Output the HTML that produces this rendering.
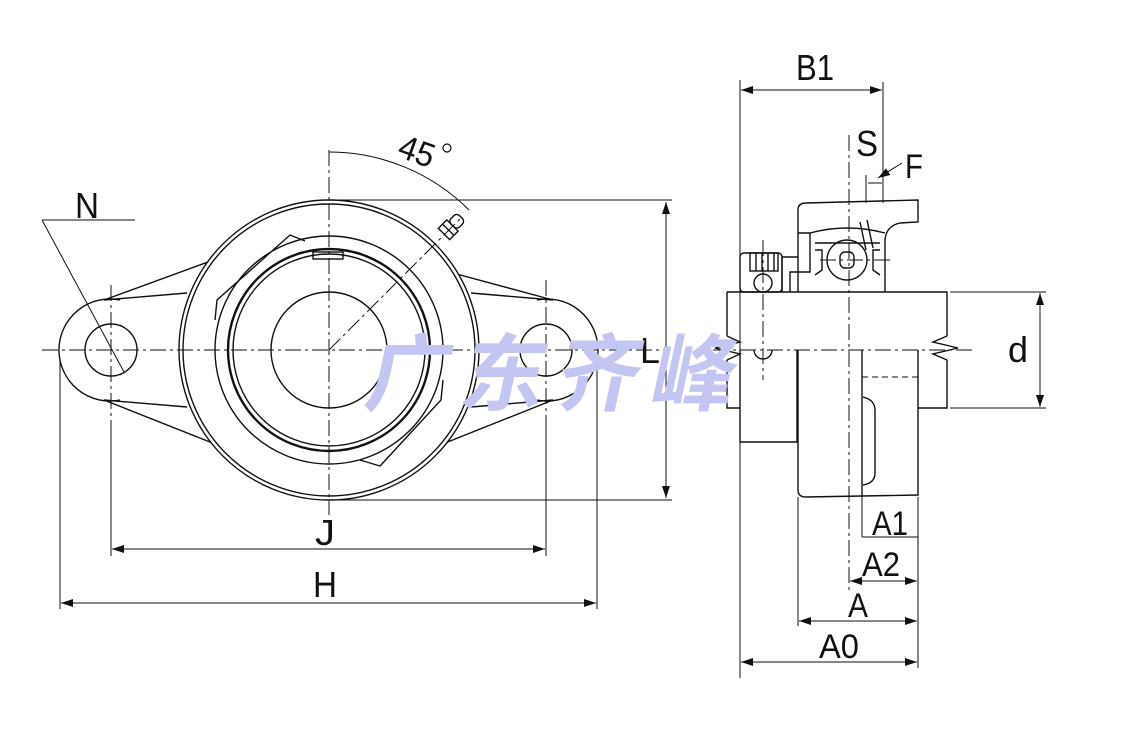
<!DOCTYPE html>
<html><head><meta charset="utf-8"><style>
html,body{margin:0;padding:0;background:#fff;}
svg{display:block;}
text{font-family:"Liberation Sans",sans-serif;fill:#111;}
.w{font-family:"Noto Sans CJK SC","WenQuanYi Zen Hei",sans-serif;fill:#c3c6f2;font-weight:bold;font-size:84px;}
</style></head><body>
<svg width="1125" height="750" viewBox="0 0 1125 750" xmlns="http://www.w3.org/2000/svg">
<defs>
<marker id="a" viewBox="0 0 12 8" refX="12" refY="4" markerWidth="12" markerHeight="8" markerUnits="userSpaceOnUse" orient="auto-start-reverse">
<path d="M0,0 L12,4 L0,8 z" fill="#111"/></marker>
</defs>

<g fill="none" stroke="#111" stroke-width="1.4">
<path d="M120,300 A51,51 0 1 0 120,400"/>
<path d="M537,300 A51,51 0 1 1 537,400"/>
<line x1="104" y1="300" x2="290" y2="232"/>
<line x1="104" y1="300" x2="187" y2="293"/>
<line x1="104" y1="400" x2="268" y2="465"/>
<line x1="104" y1="400" x2="187" y2="407"/>
<line x1="553" y1="300" x2="412" y2="262"/>
<line x1="553" y1="300" x2="471" y2="293"/>
<line x1="553" y1="400" x2="390" y2="465"/>
<line x1="553" y1="400" x2="471" y2="407"/>
<circle cx="111" cy="350" r="26"/>
<circle cx="546" cy="350" r="26"/>
<circle cx="329" cy="350" r="150" fill="#fff"/>
<circle cx="329" cy="350" r="146"/>
<circle cx="329" cy="350" r="114"/>
<path d="M215,320 L217,300 L290,235 L305,241"/>
<path d="M443,380 L441,400 L380,466 L360,460"/>
<circle cx="329" cy="350" r="101" stroke-width="2.4"/>
<circle cx="329" cy="350" r="96"/>
<circle cx="329" cy="350" r="58"/>
<rect x="313" y="252" width="30" height="7"/>
<g transform="translate(444,234) rotate(45)">
<rect x="-8" y="-12" width="16" height="12"/>
<rect x="-6" y="-24" width="12" height="12" rx="4"/>
<line x1="-8" y1="-6" x2="8" y2="-6"/>
</g>
</g>

<g stroke="#111" stroke-width="1" fill="none" stroke-dasharray="16,4,3,4">
<line x1="42" y1="350" x2="665" y2="350"/>
<line x1="329" y1="150" x2="329" y2="515"/>
<line x1="111" y1="285" x2="111" y2="420"/>
<line x1="546" y1="280" x2="546" y2="420"/>
<line x1="329" y1="350" x2="460" y2="219"/>
</g>
<g stroke="#111" stroke-width="1" fill="none">
<line x1="42" y1="220" x2="135" y2="220"/>
<line x1="42" y1="220" x2="124" y2="372"/>
<path d="M329,152 A198,198 0 0 1 469,210"/>
<line x1="329" y1="200" x2="672" y2="200"/>
<line x1="335" y1="500" x2="672" y2="500"/>
<line x1="666" y1="202" x2="666" y2="498" marker-start="url(#a)" marker-end="url(#a)"/>
<line x1="111" y1="420" x2="111" y2="556"/>
<line x1="546" y1="420" x2="546" y2="556"/>
<line x1="112" y1="549" x2="545" y2="549" marker-start="url(#a)" marker-end="url(#a)"/>
<line x1="60" y1="358" x2="60" y2="609"/>
<line x1="597" y1="358" x2="597" y2="609"/>
<line x1="61" y1="603" x2="596" y2="603" marker-start="url(#a)" marker-end="url(#a)"/>
</g>
<text x="75" y="218" font-size="36" textLength="24" lengthAdjust="spacingAndGlyphs">N</text>
<text x="0" y="0" font-size="34" transform="translate(396,156) rotate(20)" textLength="36" lengthAdjust="spacingAndGlyphs">45</text>
<circle cx="447" cy="148" r="4" fill="none" stroke="#111" stroke-width="1.2"/>
<text x="640" y="363" font-size="36" textLength="20" lengthAdjust="spacingAndGlyphs">L</text>
<text x="315" y="545" font-size="36" textLength="20" lengthAdjust="spacingAndGlyphs">J</text>
<text x="313" y="597" font-size="36" textLength="24" lengthAdjust="spacingAndGlyphs">H</text>

<g fill="none" stroke="#111" stroke-width="1.4">
<path d="M798,292 L798,210 Q798,203 806,203 L918,200 L918,222 L900,223 Q886,226 885,240 L885,292"/>
<path d="M798,233 L810,233 L810,272 L790,272 L790,292"/>
<path d="M810,233 Q847,223 885,233"/>
<path d="M815,243 L880,243"/>
<circle cx="847" cy="260" r="20"/>
<rect x="840" y="252" width="14" height="16" rx="5"/>
<path d="M815,250 L822,250 L822,270 L815,275"/>
<path d="M880,250 L873,250 L873,270 L880,275"/>
<path d="M867,220 L873,248 M860,222 L866,250"/>
<path d="M782,292 L782,257 L798,257"/>
<rect x="740" y="253" width="42" height="39" rx="4"/>
<rect x="750" y="253" width="28" height="18"/>
<path d="M756,253 V271 M762,253 V271 M768,253 V271 M774,253 V271"/>
<circle cx="763" cy="283" r="9"/>
<path d="M727,292 L947,292 L947,336 M947,360 L947,408 L918,408"/>
<path d="M727,292 L727,336 M727,360 L727,408 L740,408"/>
<path d="M947,336 L933,342 L958,348 L933,354 L947,360"/>
<path d="M727,336 L740,342 L715,348 L740,354 L727,360"/>
<path d="M740,350 L740,442 L797,442 L797,350"/>
<path d="M798,350 L798,490 Q798,497 806,497 L918,495 L918,350"/>
<line x1="862" y1="350" x2="862" y2="497"/>
<path d="M863,397 Q875,400 875,410 L875,473 Q875,483 863,485"/>
<path d="M754,350 A9,9 0 0 0 772,350"/>
</g>
<g stroke="#111" stroke-width="1" fill="none" stroke-dasharray="16,4,3,4">
<line x1="713" y1="350" x2="975" y2="350"/>
<line x1="849" y1="135" x2="849" y2="590"/>
<line x1="763" y1="240" x2="763" y2="380"/>
<line x1="820" y1="260" x2="892" y2="260"/>
</g>
<line x1="862" y1="377" x2="918" y2="377" stroke="#111" stroke-dasharray="6,4"/>
<g stroke="#111" stroke-width="1" fill="none">
<line x1="740" y1="80" x2="740" y2="678"/>
<line x1="883" y1="82" x2="883" y2="203"/>
<line x1="741" y1="90" x2="882" y2="90" marker-start="url(#a)" marker-end="url(#a)"/>
<line x1="866" y1="175" x2="866" y2="203"/>
<line x1="868" y1="183" x2="882" y2="183"/>
<line x1="902" y1="163" x2="878" y2="178" marker-end="url(#a)"/>
<line x1="950" y1="292" x2="1046" y2="292"/>
<line x1="950" y1="408" x2="1046" y2="408"/>
<line x1="1040" y1="293" x2="1040" y2="407" marker-start="url(#a)" marker-end="url(#a)"/>
<line x1="918" y1="497" x2="918" y2="668"/>
<line x1="862" y1="497" x2="862" y2="537"/>
<line x1="862" y1="537" x2="918" y2="537"/>
<line x1="850" y1="581" x2="917" y2="581" marker-start="url(#a)" marker-end="url(#a)"/>
<line x1="798" y1="497" x2="798" y2="626"/>
<line x1="799" y1="621" x2="917" y2="621" marker-start="url(#a)" marker-end="url(#a)"/>
<line x1="741" y1="662" x2="917" y2="662" marker-start="url(#a)" marker-end="url(#a)"/>
</g>
<text x="796" y="80" font-size="36" textLength="38" lengthAdjust="spacingAndGlyphs">B1</text>
<text x="856" y="156" font-size="36" textLength="22" lengthAdjust="spacingAndGlyphs">S</text>
<text x="905" y="178" font-size="34" textLength="18" lengthAdjust="spacingAndGlyphs">F</text>
<text x="1008" y="362" font-size="36" textLength="20" lengthAdjust="spacingAndGlyphs">d</text>
<text x="872" y="535" font-size="34" textLength="36" lengthAdjust="spacingAndGlyphs">A1</text>
<text x="862" y="576" font-size="34" textLength="38" lengthAdjust="spacingAndGlyphs">A2</text>
<text x="848" y="617" font-size="34" textLength="20" lengthAdjust="spacingAndGlyphs">A</text>
<text x="819" y="658" font-size="34" textLength="40" lengthAdjust="spacingAndGlyphs">A0</text>

<g transform="skewX(-12)">
<text class="w" x="448" y="404">广</text>
<text class="w" x="543" y="404">东</text>
<text class="w" x="638" y="404">齐</text>
<text class="w" x="733" y="404">峰</text>
</g>
</svg>
</body></html>
